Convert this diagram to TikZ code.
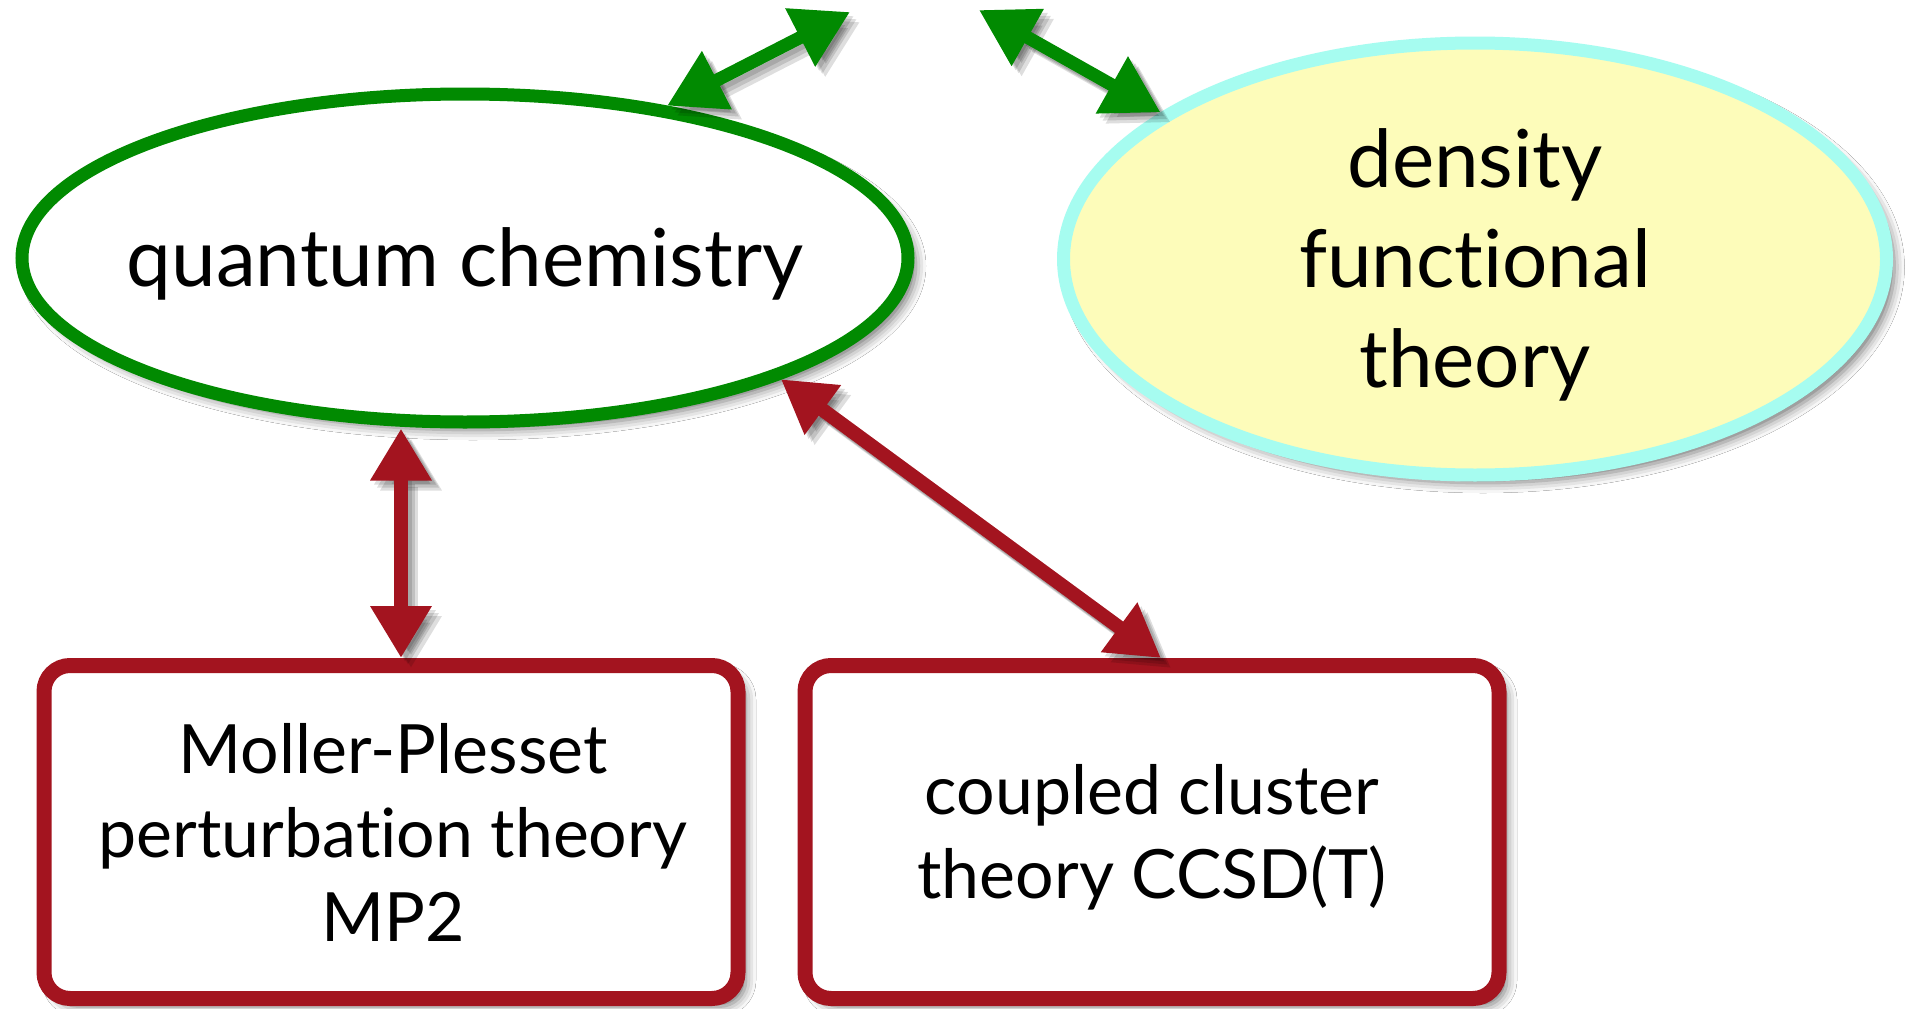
\documentclass[tikz,border=0pt]{standalone}
\usepackage{fontspec}
\setmainfont{Lato}[Ligatures=NoCommon]
\usetikzlibrary{shapes.geometric,arrows.meta,shadows.blur}
\definecolor{qgreen}{HTML}{018A01}
\definecolor{qred}{HTML}{A3141F}
\definecolor{dftcyan}{HTML}{A6FCF0}
\definecolor{dftfill}{HTML}{FDFCBA}
\begin{document}
\begin{tikzpicture}[x=1pt,y=-1pt,
  shadowed/.style={blur shadow={shadow xshift=8pt,shadow yshift=-8pt,shadow blur radius=10pt,shadow opacity=55}},
  qcell/.style={ellipse, draw=qgreen, line width=13pt, fill=white, minimum width=886pt, minimum height=328pt, inner sep=0pt, shadowed},
  dftell/.style={ellipse, draw=dftcyan, line width=13pt, fill=dftfill, minimum width=823pt, minimum height=432pt, inner sep=0pt, shadowed},
  methbox/.style={rectangle, rounded corners=26pt, draw=qred, line width=15pt, fill=white, minimum width=694pt, minimum height=333pt, inner sep=0pt, shadowed},
  bigtext/.style={inner sep=0pt, align=center, font=\fontsize{80}{100}\selectfont},
  boxtext/.style={inner sep=0pt, align=center, font=\fontsize{68}{84}\selectfont},
  garrow/.style={qgreen, line width=13pt, {Triangle[length=56pt,width=62pt]}-{Triangle[length=56pt,width=62pt]}},
  rarrow/.style={qred, line width=14pt, {Triangle[length=52pt,width=58pt]}-{Triangle[length=52pt,width=58pt]}},
  ashadow/.style={black, opacity=0.13, transform canvas={shift={(#1,-#1)}}}
]
\path[use as bounding box, fill=white] (0,0) rectangle (1912,1009);

\node[qcell] (qc) at (465,258) {};
\node[dftell] (dft) at (1475,259) {};
\node[methbox] (mp) at (391,832) {};
\node[methbox] (cc) at (1152,832) {};

\node[bigtext] (qct) at ([yshift=-6pt]qc.center) {quantum chemistry};
\node[bigtext] (dftt) at ([yshift=-6pt]dft.center) {density\\functional\\theory};
\node[boxtext] (mpt) at ([xshift=2pt]mp.center) {Moller-Plesset\\perturbation theory\\MP2};
\node[boxtext] (cct) at ([yshift=-5pt]cc.center) {coupled cluster\\theory CCSD(T)};

\coordinate (gl) at (850,12);
\coordinate (gr) at (979,10);
\coordinate (mptop) at ([xshift=10pt]mp.north);

\foreach \s in {4pt,7pt,10pt}{
  \draw[garrow, ashadow=\s] (qc.37) -- (gl);
  \draw[garrow, ashadow=\s] (gr) -- (dft.155);
  \draw[rarrow, ashadow=\s] (qc.south -| mptop) -- (mptop);
  \draw[rarrow, ashadow=\s] (qc.-21) -- ([xshift=9pt]cc.north);
}
\draw[garrow] (qc.37) -- (gl);
\draw[garrow] (gr) -- (dft.155);
\draw[rarrow] (qc.south -| mptop) -- (mptop);
\draw[rarrow] (qc.-21) -- ([xshift=9pt]cc.north);
\end{tikzpicture}
\end{document}
